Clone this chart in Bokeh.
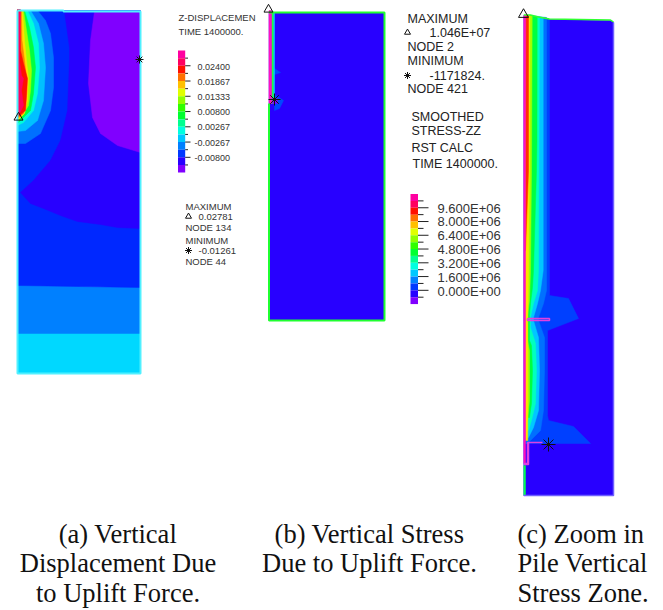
from bokeh.plotting import figure
from bokeh.models import Range1d
from bokeh.core.properties import value
from bokeh.embed import file_html
from bokeh.resources import INLINE

# ---- contour palette, top of scale to bottom
legend_colors = ["#ff00a0","#ff0060","#ff1000","#ff7000","#ffc000","#e0ff00","#90ff00","#30ff00",
                 "#00ff30","#00ff90","#00ffe0","#00c8ff","#0080ff","#0038ff","#2800ff","#8000ff"]

# ---- panel (a) contour bands: (colour, x outline, y outline) in sheet units
a_bands = [
 ("#00d8ff",[17,140,140,17],[332,332,373,373]),
 ("#0080ff",[17,54,100,140,140,17],[284,285,286,286,333,333]),
 ("#0028ff",[17,140,140,17],[10,10,287,285]),
 ("#2800ff",[64,69,69,67,60,50,33,20,30,43,60,77,100,117,140,140],[11,47,60,110,140,160,180,192,203,208,215,221,224,227,228,11]),
 ("#8000ff",[94,90,88,92,100,117,140,140],[11,40,83,117,133,145,152,11]),
 ("#0070ff",[17,37,45,50,53,53,50,40,25,17],[10,10,20,33,57,87,110,133,143,143]),
 ("#00c0ff",[17,30,38,43,45,43,37,25,17],[10,10,23,43,67,100,120,130,131]),
 ("#00ffd8",[17,27,33,38,39,37,33,23,17],[10,10,23,43,67,93,110,122,125]),
 ("#00ff40",[17,24,29,33,35,33,30,22,17],[10,10,27,47,67,93,110,118,123]),
 ("#a0ff00",[17,23,26,29,31,30,28,22,17],[10,10,30,50,70,90,105,115,121]),
 ("#ffe000",[17,22,24,26,28,27,24,17],[10,10,40,60,78,100,113,120]),
 ("#ff8000",[17,21,21.5,24,26,25.5,23,17],[10,10,40,60,78,98,113,118]),
 ("#ff1000",[17,19.5,20,23,27,26,25,18,17],[9,9,50,63,78,95,110,116,116]),
 ("#ff0060",[17,20,19,21,23,21,23,19,17],[9,9,60,75,78,90,105,113,114]),
]
a_outline_x = [17,63,63,140,140,17,17]
a_outline_y = [10,10,11,11,373,373,10]

# ---- panel (b)
b_bands = [
 ("#2800ff",[268.5,384,384,268.5],[12,12,320,320]),
 ("#0048ff",[274,280,274],[68,72,74]),
 ("#0048ff",[274,283,279,274],[94,100,108,110]),
 ("#00d8ff",[272.7,274,274,272.7],[12,12,103,103]),
 ("#20ff40",[271,272.7,272.7,271],[12,12,103,103]),
 ("#ff10c0",[268.5,271,271,268.5],[10,10,103,103]),
 ("#8000ff",[272,277,277,272],[98,98,103,103]),
]
b_outline_x = [268.5,268.5,384,384,268.5]
b_outline_y = [103,320,320,12,12]

# ---- panel (c)
c_top_x = [523.3,530,538,549,610,613]
c_top_y = [15,15,17,19,20,22]
c_bands = [
 ("#2800ff",[523.3,530,538,549,610,613,613,523.3],[15,15,17,19,20,22,495,495]),
 ("#0040ff",[525,549,549,568,578,547,547,548,573,590,525],[15,19,295,298,318,330,415,420,426,443,443]),
 ("#0070ff",[525,546,546,543,538,538,544,544,543,540,530,527,525],[15,17,290,303,317,320,337,370,410,430,440,443,443]),
 ("#00c8ff",[525,542.7,542.7,540,537,533,533,538,539,538,533,528,525],[15,17,270,290,303,317,320,337,370,410,427,437,437]),
 ("#00ffc0",[525,539,538,537,533,530,530,535,536,535,531,528,525],[15,16,270,290,303,317,327,343,370,403,420,430,430]),
 ("#00ff40",[525,536.7,536.5,536,533,532,530,529,529,531,532,531,529,525],[15,16,140,170,270,287,303,315,340,345,370,403,417,417]),
 ("#a0ff00",[525,531.7,531,530,529,527,527,529,529,527,525],[15,15,170,270,300,315,340,350,400,420,420]),
 ("#ffe000",[525,529.3,529,528,527.3,527.3,525],[15,15,170,270,320,440,440]),
 ("#ff3000",[525,528,528,525],[15,15,170,250]),
 ("#ff10c0",[523.3,525.3,525,525,523.3],[15,15,170,463,463]),
 ("#00ff50",[523.3,525,525,523.3],[465,465,495,495]),
]
c_loop1_x = [527,549,549,527]
c_loop1_y = [318,318,320,320]
c_loop2_x = [542,527,527,524,524,528,528]
c_loop2_y = [442,442,463,463,464,464,442]

# ---- legends
legend_a_top, legend_a_step = 50.0, 7.63
legend_b_top, legend_b_step = 193.5, 6.88
labels_a = ["0.02400","0.01867","0.01333","0.00800","0.00267","-0.00267","-0.00800"]
labels_b = ["9.600E+06","8.000E+06","6.400E+06","4.800E+06","3.200E+06","1.600E+06","0.000E+00"]

notes_small = [("Z-DISPLACEMEN",178,17),("TIME 1400000.",178,31),
               ("MAXIMUM",185,206),("0.02781",198,216),("NODE 134",185,227),
               ("MINIMUM",185,240),("-0.01261",198,250),("NODE 44",185,261)]
notes_large = [("MAXIMUM",407,18),("1.046E+07",429,32),("NODE 2",407,46),
               ("MINIMUM",407,60),("-1171824.",429,75),("NODE 421",407,88),
               ("SMOOTHED",411,116),("STRESS-ZZ",411,130),("RST CALC",411,147),("TIME 1400000.",412,163)]
captions_centre = [("(a) Vertical",117.5,533),("Displacement Due",117.5,562.5),("to Uplift Force.",117.5,592),
                   ("(b) Vertical Stress",369,533),("Due to Uplift Force.",369,562.5)]
captions_left = [("(c) Zoom in",517,533),("Pile Vertical",517,562.5),("Stress Zone.",517,592)]
tri_marks = [(18,117,9),(268,9,9),(523,14,10),(188,216,6),(407,32,6)]
star_marks = [(139,59,8),(274,99,12),(548,444,14),(188,250,7),(407,75,7)]

p = figure(width=655, height=610, x_range=Range1d(0,655), y_range=Range1d(610,0),
           toolbar_location=None, output_backend="svg", min_border=0, outline_line_color=None)
p.axis.visible = False
p.grid.visible = False

def band(color, xs, ys):
    p.patch(xs, ys, fill_color=color, line_color=color, line_width=0.5)

for b in a_bands: band(*b)
p.line(a_outline_x, a_outline_y, line_color="#50f0ff", line_width=2)
for b in b_bands: band(*b)
p.line(b_outline_x, b_outline_y, line_color="#20ff30", line_width=2)
for b in c_bands: band(*b)
p.line(c_top_x, [v-0.5 for v in c_top_y], line_color="#30ff30", line_width=1.5)
p.line([613,613,523.3],[22,495,495], line_color="#7060ff", line_width=1.5)
p.line(c_loop1_x+c_loop1_x[:1], c_loop1_y+c_loop1_y[:1], line_color="#e040e0", line_width=1.5)
p.line(c_loop2_x, c_loop2_y, line_color="#e040e0", line_width=1.5)

def color_bar(x0, x1, top, step, tick_long, tick_short):
    for i, c in enumerate(legend_colors):
        p.quad(left=x0, right=x1, top=top+i*step, bottom=top+(i+1)*step, fill_color=c, line_color=None)
    for i in range(1, len(legend_colors)):
        y = top+i*step
        p.line([x1, tick_long if i % 2 == 0 else tick_short],[y,y], line_color="#222222", line_width=1)

color_bar(177.5,184.7,legend_a_top,legend_a_step,190,187.5)
color_bar(410,417.5,legend_b_top,legend_b_step,428,423)

def texts(rows, size, color, font="Liberation Sans", align="left", baseline="middle"):
    p.text([r[1] for r in rows],[r[2] for r in rows],text=[r[0] for r in rows],
           text_font=value(font),text_font_size=size,text_color=color,
           text_baseline=baseline,text_align=align)

texts([(t,197 if not t.startswith("-") else 194,66+i*15.2) for i,t in enumerate(labels_a)],"9px","#333333")
texts([(t,437,207.5+i*13.9) for i,t in enumerate(labels_b)],"13px","#333333")
texts(notes_small,"9.5px","#333333")
texts(notes_large,"12.5px","#222222")
texts(captions_centre,"26.5px","#111111","Liberation Serif","center")
texts(captions_left,"26.5px","#111111","Liberation Serif","left")

p.scatter([m[0] for m in tri_marks],[m[1] for m in tri_marks],size=[m[2] for m in tri_marks],
          marker="triangle",fill_color=None,line_color="#111111",line_width=1)
p.scatter([m[0] for m in star_marks],[m[1] for m in star_marks],size=[m[2] for m in star_marks],
          marker="asterisk",line_color="#111111",line_width=1)

open("out.html","w").write(file_html(p, INLINE))
